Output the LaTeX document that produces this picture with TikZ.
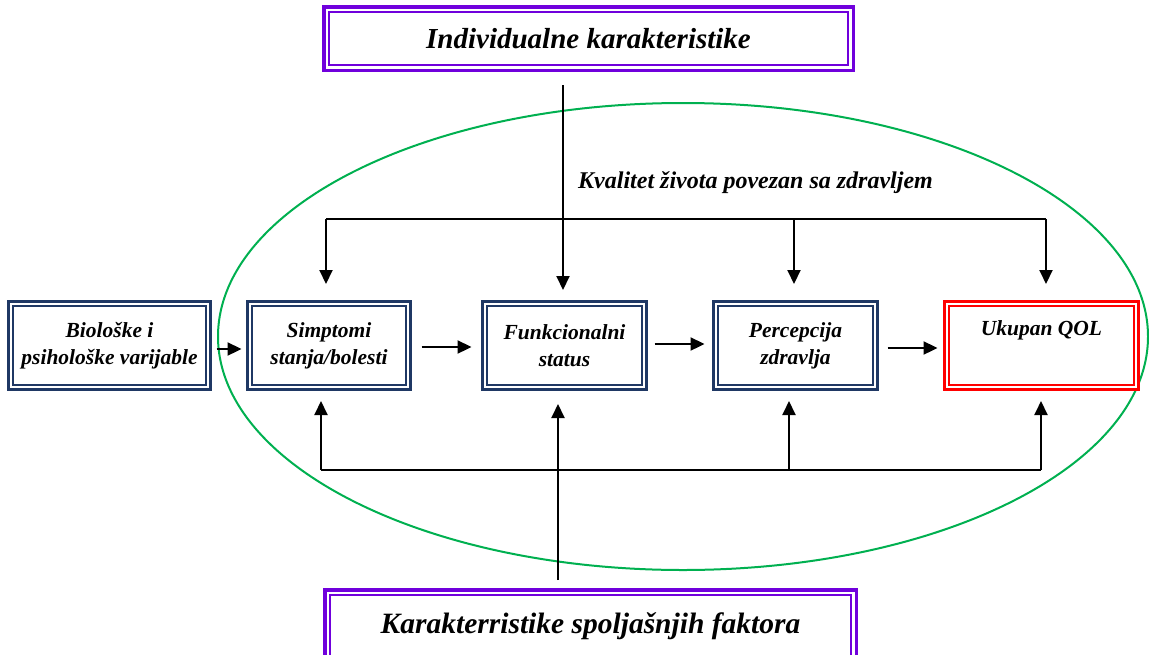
\documentclass[tikz,border=0pt]{standalone}
\usepackage{fontspec}
\setmainfont{Liberation Serif}
\usetikzlibrary{arrows.meta}
\definecolor{navy}{RGB}{31,56,100}
\definecolor{qred}{RGB}{255,0,0}
\definecolor{violetc}{RGB}{112,0,220}
\definecolor{greenc}{RGB}{0,176,80}
\begin{document}
\begin{tikzpicture}[x=1pt,y=-1pt,
  dbox/.style 2 args={draw=#1, line width=3pt, fill=white, minimum width=#2, minimum height=88pt,
    inner sep=0pt, align=center, font=\fontsize{21.5}{27}\selectfont\bfseries\itshape,
    path picture={\draw[#1,line width=1.8pt]
      ([shift={(4.5pt,-4.5pt)}]path picture bounding box.north west) rectangle
      ([shift={(-4.5pt,4.5pt)}]path picture bounding box.south east);}},
  pbox/.style={draw=violetc, line width=3.5pt, fill=white, minimum width=529.5pt,
    inner sep=0pt, align=center,
    path picture={\draw[violetc,line width=2pt]
      ([shift={(5.5pt,-5.5pt)}]path picture bounding box.north west) rectangle
      ([shift={(-5.5pt,5.5pt)}]path picture bounding box.south east);}},
  conn/.style={draw=black, line width=2pt},
  arr/.style={conn, -{Triangle[length=14pt,width=13pt]}},
  harr/.style={draw=black, line width=2.3pt, -{Triangle[length=14pt,width=13pt]}},
  lbl/.style={font=\fontsize{24}{28}\selectfont\bfseries\itshape, inner sep=0pt}
]
\useasboundingbox (0,0) rectangle (1149,654);

% green ellipse
\draw[greenc, line width=2pt] (683,336.5) ellipse [x radius=465pt, y radius=233.5pt];

% top and bottom boxes
\node[pbox, minimum height=63.5pt, font=\fontsize{29}{34}\selectfont\bfseries\itshape]
  (ind) at (588.5,38.5) {Individualne karakteristike};
\node[pbox, minimum width=531.5pt, minimum height=72.5pt, font=\fontsize{29.5}{34}\selectfont\bfseries\itshape]
  (ext) at (590.5,626) {\raisebox{5pt}{Karakterristike spoljašnjih faktora}};

% row of boxes
\node[dbox={navy}{202pt}] (bio) at (109.5,345.5) {Biološke i\\psihološke varijable};
\node[dbox={navy}{163pt}] (simp) at (329,345.5) {Simptomi\\stanja/bolesti};
\node[dbox={navy}{164pt}] (funk) at (564.5,345.5) {Funkcionalni\\status};
\node[dbox={navy}{164pt}] (perc) at (795.5,345.5) {Percepcija\\zdravlja};
\node[dbox={qred}{194pt}] (qol) at (1041.5,345.5) {Ukupan QOL\\\strut};

% label
\node[lbl, anchor=base] (kv) at (755.5,188) {Kvalitet života povezan sa zdravljem};

% coordinates
\coordinate (ti) at (563,85);
\coordinate (tbL) at (326,219);
\coordinate (tbM) at (794,219);
\coordinate (tbR) at (1046,219);
\coordinate (bbL) at (321,470);
\coordinate (bbM) at (789,470);
\coordinate (bbR) at (1041,470);
\coordinate (bi) at (558,580);

% top connectors
\draw[arr, shorten >=10pt] (ti) -- (ti |- funk.north);
\draw[conn] (tbL) -- (tbR);
\draw[arr, shorten >=16pt] (tbL) -- (tbL |- simp.north);
\draw[arr, shorten >=16pt] (tbM) -- (tbM |- perc.north);
\draw[arr, shorten >=16pt] (tbR) -- (tbR |- qol.north);

% bottom connectors
\draw[conn] (bbL) -- (bbR);
\draw[arr, shorten >=10pt] (bbL) -- (bbL |- simp.south);
\draw[arr, shorten >=10pt] (bbM) -- (bbM |- perc.south);
\draw[arr, shorten >=10pt] (bbR) -- (bbR |- qol.south);
\draw[arr, shorten >=13pt] (bi) -- (bi |- funk.south);

% horizontal arrows
\draw[harr, shorten <=4.5pt, shorten >=4.5pt] ([yshift=-3.5pt]bio.east) -- ([yshift=-3.5pt]simp.west);
\draw[harr, shorten <=9.5pt, shorten >=9.5pt] ([yshift=-1.5pt]simp.east) -- ([yshift=-1.5pt]funk.west);
\draw[harr, shorten <=6.5pt, shorten >=7.5pt] ([yshift=1.5pt]funk.east) -- ([yshift=1.5pt]perc.west);
\draw[harr, shorten <=8.5pt, shorten >=5.5pt] ([yshift=-2.5pt]perc.east) -- ([yshift=-2.5pt]qol.west);
\end{tikzpicture}
\end{document}
